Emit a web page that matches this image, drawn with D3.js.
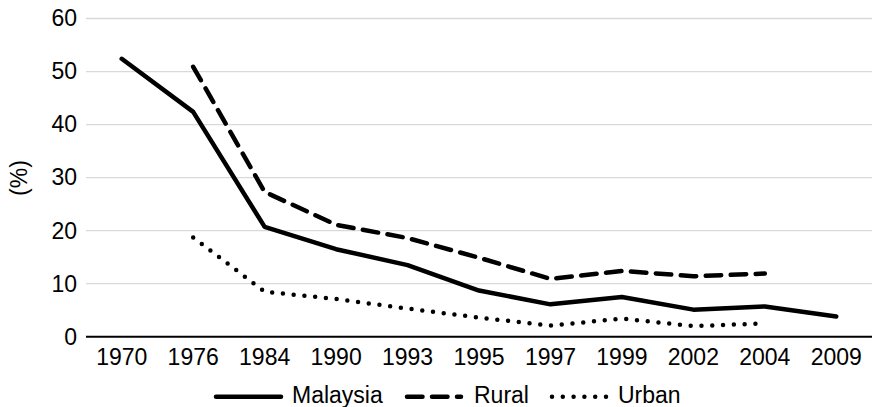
<!DOCTYPE html>
<html>
<head>
<meta charset="utf-8">
<script src="https://cdn.jsdelivr.net/npm/d3@7/dist/d3.min.js"></script>
<style>
  html, body { margin: 0; padding: 0; background: #fff; }
  svg { display: block; font-family: "Liberation Sans", Arial, sans-serif; }
</style>
</head>
<body>
<svg id="chart" width="872" height="407"></svg>
<script>
// Survey years (category axis)
const years = ["1970", "1976", "1984", "1990", "1993", "1995", "1997", "1999", "2002", "2004", "2009"];

// Incidence of poverty (%), null where no estimate exists
const malaysia = [52.4, 42.4, 20.7, 16.5, 13.5, 8.7, 6.1, 7.5, 5.1, 5.7, 3.8];
const rural    = [null, 50.9, 27.3, 21.1, 18.6, 14.9, 10.9, 12.4, 11.4, 11.9, null];
const urban    = [null, 18.7, 8.5, 7.1, 5.3, 3.6, 2.1, 3.4, 2.0, 2.5, null];

const yTicks = [0, 10, 20, 30, 40, 50, 60];
const seriesNames = ["Malaysia", "Rural", "Urban"];

const fontSize = 23;
const svg = d3.select("#chart");
const plotLeft = 86, plotRight = 872, plotTop = 18.5, plotBottom = 336.7;

const x = d3.scaleBand().domain(years).range([plotLeft, plotRight]).padding(0);
const y = d3.scaleLinear().domain([0, 60]).range([plotBottom, plotTop]);
const cx = d => x(d) + x.bandwidth() / 2;

// Horizontal gridlines
svg.append("g")
  .selectAll("line")
  .data(yTicks.filter(t => t > 0))
  .join("line")
  .attr("x1", plotLeft).attr("x2", plotRight)
  .attr("y1", d => y(d)).attr("y2", d => y(d))
  .attr("stroke", "#d9d9d9").attr("stroke-width", 1.3);

// Y axis labels
const yAxis = d3.axisLeft(y).tickValues(yTicks).tickSize(0).tickPadding(9);
svg.append("g")
  .attr("transform", `translate(${plotLeft},0)`)
  .call(yAxis)
  .call(g => g.select(".domain").remove())
  .call(g => g.selectAll("text")
    .attr("font-size", fontSize)
    .attr("fill", "#000")
    .attr("font-family", "Liberation Sans, Arial, sans-serif"));

// X axis with baseline
const xAxis = d3.axisBottom(x).tickSize(0).tickPadding(12);
svg.append("g")
  .attr("transform", `translate(0,${plotBottom})`)
  .call(xAxis)
  .call(g => g.select(".domain").attr("stroke", "#000").attr("stroke-width", 2)
      .attr("d", `M${plotLeft},0H${plotRight}`))
  .call(g => g.selectAll("text")
    .attr("font-size", fontSize)
    .attr("fill", "#000")
    .attr("font-family", "Liberation Sans, Arial, sans-serif"));

// Y axis title
svg.append("text")
  .attr("transform", "translate(19,178) rotate(-90)")
  .attr("text-anchor", "middle")
  .attr("dominant-baseline", "central")
  .attr("font-size", fontSize)
  .text("(%)");

const styles = {
  Malaysia: { dash: null, cap: "round" },
  Rural:    { dash: "15.5,9.5", cap: "round" },
  Urban:    { dash: "0,10.8", cap: "round" }
};
const data = { Malaysia: malaysia, Rural: rural, Urban: urban };

const line = d3.line()
  .defined(d => d.v !== null)
  .x(d => cx(d.year))
  .y(d => y(d.v));

seriesNames.forEach(name => {
  const pts = years.map((yr, i) => ({ year: yr, v: data[name][i] }));
  svg.append("path")
    .datum(pts)
    .attr("d", line)
    .attr("fill", "none")
    .attr("stroke", "#000")
    .attr("stroke-width", 4.5)
    .attr("stroke-linejoin", "round")
    .attr("stroke-linecap", styles[name].cap)
    .attr("stroke-dasharray", styles[name].dash);
});

// Legend
const legendItems = [
  { name: "Malaysia", x1: 216, x2: 281, tx: 292 },
  { name: "Rural",    x1: 407, x2: 461, tx: 474 },
  { name: "Urban",    x1: 552, x2: 608, tx: 618 }
];
const lg = svg.append("g");
legendItems.forEach(it => {
  lg.append("line")
    .attr("x1", it.x1).attr("x2", it.x2)
    .attr("y1", 396.7).attr("y2", 396.7)
    .attr("stroke", "#000").attr("stroke-width", 4.5)
    .attr("stroke-linecap", "round")
    .attr("stroke-dasharray", styles[it.name].dash);
  lg.append("text")
    .attr("x", it.tx).attr("y", 403)
    .attr("font-size", fontSize)
    .text(it.name);
});
</script>
</body>
</html>
